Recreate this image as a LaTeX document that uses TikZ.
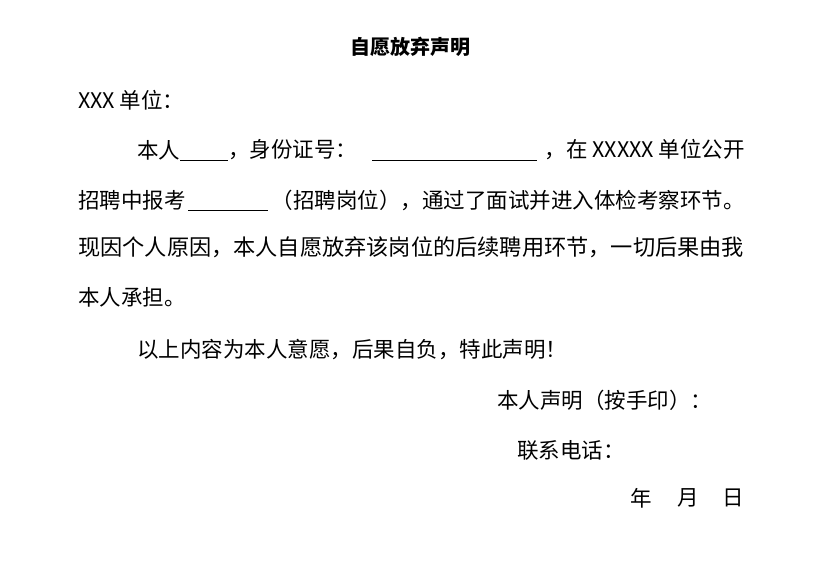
\documentclass[tikz,border=0pt]{standalone}
\usepackage{fontspec}
\setmainfont{Noto Sans CJK SC}
\begin{document}
\begin{tikzpicture}[x=1pt,y=-1pt,
  txt/.style={anchor=west,inner sep=0pt,font=\fontsize{21.5}{21.5}\selectfont},
  uline/.style={line width=0.8pt}]
\useasboundingbox (0,0) rectangle (815,565);
\fill[white] (0,0) rectangle (815,565);
\node[inner sep=0pt,font=\fontsize{20}{20}\selectfont\bfseries] (title) at (410,47) {自愿放弃声明};
\node[txt] (l0) at (78,100) {XXX 单位：};
\node[txt] (a1) at (137,150) {本人};
\draw[uline] (180,160) -- (228,160);
\node[txt] (a2) at (228,150) {，身份证号：};
\draw[uline] (372,160) -- (537,160);
\node[txt,anchor=east] (a3) at (745,150) {，在 XXXXX 单位公开};
\node[txt] (b1) at (78,200) {招聘中报考};
\draw[uline] (188,210) -- (268,210);
\node[txt,anchor=east] (b2) at (745,200) {（招聘岗位），通过了面试并进入体检考察环节。};
\node[txt,anchor=west,font=\fontsize{22.2}{22.2}\selectfont] (c1) at (78,247) {现因个人原因，本人自愿放弃该岗位的后续聘用环节，一切后果由我};
\node[txt] (d1) at (78,297) {本人承担。};
\node[txt] (e1) at (137,350) {以上内容为本人意愿，后果自负，特此声明！};
\node[txt] (f1) at (497,400) {本人声明（按手印）：};
\node[txt] (g1) at (517,450) {联系电话：};
\node[txt] (h1) at (630,498) {年};
\node[txt] (h2) at (677,498) {月};
\node[txt] (h3) at (722,498) {日};
\end{tikzpicture}
\end{document}
